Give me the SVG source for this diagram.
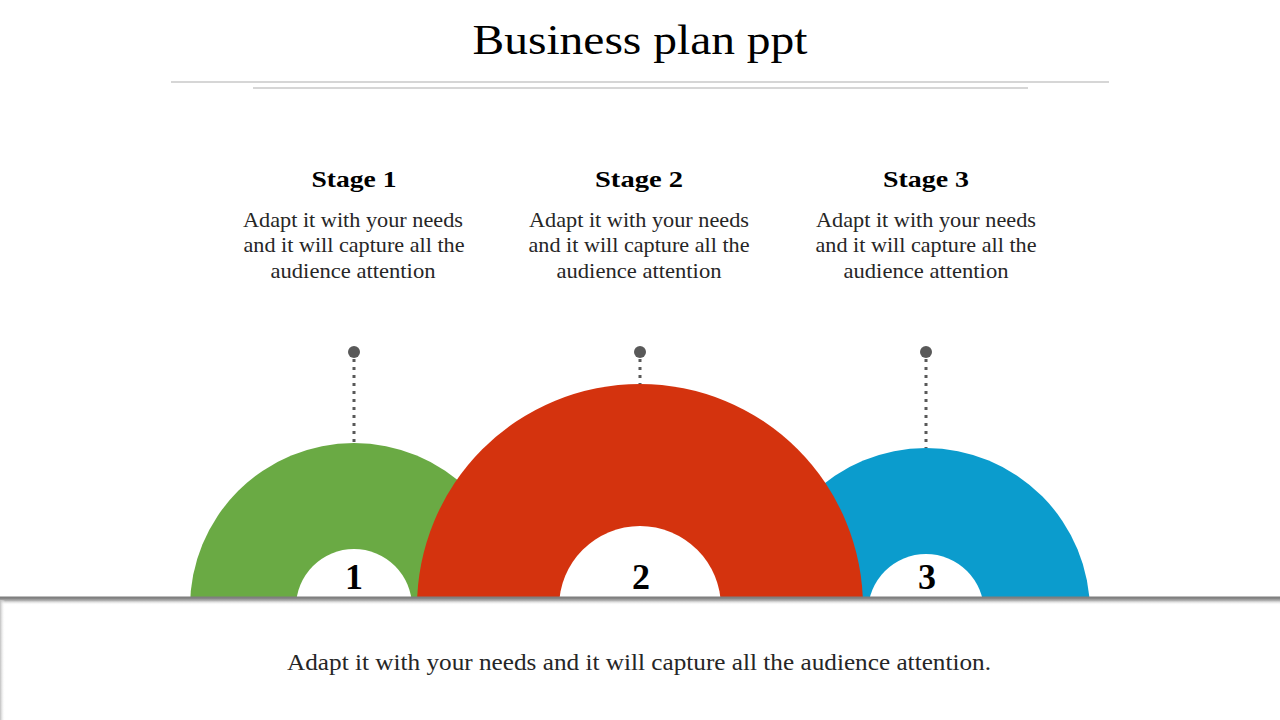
<svg xmlns="http://www.w3.org/2000/svg" width="1280" height="720" viewBox="0 0 1280 720">
<defs>
<style>
.serif{font-family:"Liberation Serif","DejaVu Serif",serif;fill:#000}
.title{font-size:43px}
.head{font-size:24px;font-weight:bold;text-anchor:middle}
.body{font-size:21px;text-anchor:middle;fill:#262626}
.num{font-size:36px;font-weight:bold;text-anchor:middle}
.rule{stroke:#c8c8c8;stroke-width:1.3}
.dots{stroke:#595959;stroke-width:3;stroke-dasharray:3 5}
.pin{fill:#595959}
</style>
<linearGradient id="shadow" x1="0" y1="0" x2="0" y2="1">
<stop offset="0" stop-color="#7f7f7f"/>
<stop offset="0.4" stop-color="#a6a6a6"/>
<stop offset="1" stop-color="#ffffff" stop-opacity="0"/>
</linearGradient>
<linearGradient id="sideshadow" x1="0" y1="0" x2="1" y2="0">
<stop offset="0" stop-color="#bfbfbf"/>
<stop offset="1" stop-color="#ffffff" stop-opacity="0"/>
</linearGradient>
</defs>
<rect width="1280" height="720" fill="#fff"/>
<text class="serif title" x="640" y="54" text-anchor="middle" textLength="335" lengthAdjust="spacingAndGlyphs">Business plan ppt</text>
<line class="rule" x1="171" y1="82" x2="1109" y2="82"/>
<line class="rule" x1="253" y1="88" x2="1028" y2="88"/>

<g id="connectors">
<line class="dots" x1="354" y1="359" x2="354" y2="443"/>
<line class="dots" x1="640" y1="359" x2="640" y2="384"/>
<line class="dots" x1="926" y1="359" x2="926" y2="448"/>
<circle class="pin" cx="354" cy="352" r="6"/>
<circle class="pin" cx="640" cy="352" r="6"/>
<circle class="pin" cx="926" cy="352" r="6"/>
</g>

<g id="stage1">
<text class="serif head" x="354" y="187" textLength="85" lengthAdjust="spacingAndGlyphs">Stage 1</text>
<text class="serif body" x="353" y="227" textLength="220" lengthAdjust="spacingAndGlyphs">Adapt it with your needs</text>
<text class="serif body" x="354" y="252" textLength="221" lengthAdjust="spacingAndGlyphs">and it will capture all the</text>
<text class="serif body" x="353" y="278" textLength="165" lengthAdjust="spacingAndGlyphs">audience attention</text>
<circle cx="354" cy="607" r="164" fill="#6aaa44"/>
<circle cx="354" cy="607" r="58" fill="#fff"/>
<text class="serif num" x="354" y="589">1</text>
</g>
<g id="stage3">
<text class="serif head" x="926" y="187" textLength="86" lengthAdjust="spacingAndGlyphs">Stage 3</text>
<text class="serif body" x="926" y="227" textLength="220" lengthAdjust="spacingAndGlyphs">Adapt it with your needs</text>
<text class="serif body" x="926" y="252" textLength="221" lengthAdjust="spacingAndGlyphs">and it will capture all the</text>
<text class="serif body" x="926" y="278" textLength="165" lengthAdjust="spacingAndGlyphs">audience attention</text>
<circle cx="926" cy="612" r="164" fill="#0b9ccd"/>
<circle cx="926" cy="612" r="58" fill="#fff"/>
<text class="serif num" x="927" y="589">3</text>
</g>
<g id="stage2">
<text class="serif head" x="639" y="187" textLength="88" lengthAdjust="spacingAndGlyphs">Stage 2</text>
<text class="serif body" x="639" y="227" textLength="220" lengthAdjust="spacingAndGlyphs">Adapt it with your needs</text>
<text class="serif body" x="639" y="252" textLength="221" lengthAdjust="spacingAndGlyphs">and it will capture all the</text>
<text class="serif body" x="639" y="278" textLength="165" lengthAdjust="spacingAndGlyphs">audience attention</text>
<circle cx="640" cy="607" r="223" fill="#d4330e"/>
<circle cx="640" cy="607" r="81" fill="#fff"/>
<text class="serif num" x="641" y="589">2</text>
</g>

<g id="footer">
<rect x="0" y="597" width="1280" height="130" fill="#fff"/>
<rect x="0" y="597" width="1280" height="8" fill="url(#shadow)"/>
<rect x="0" y="600" width="5" height="120" fill="url(#sideshadow)"/>
<line x1="0" y1="597.5" x2="1280" y2="597.5" stroke="#7f7f7f" stroke-width="2"/>
<text class="serif body" x="639" y="670" style="font-size:23px" textLength="704" lengthAdjust="spacingAndGlyphs">Adapt it with your needs and it will capture all the audience attention.</text>
</g>
</svg>
